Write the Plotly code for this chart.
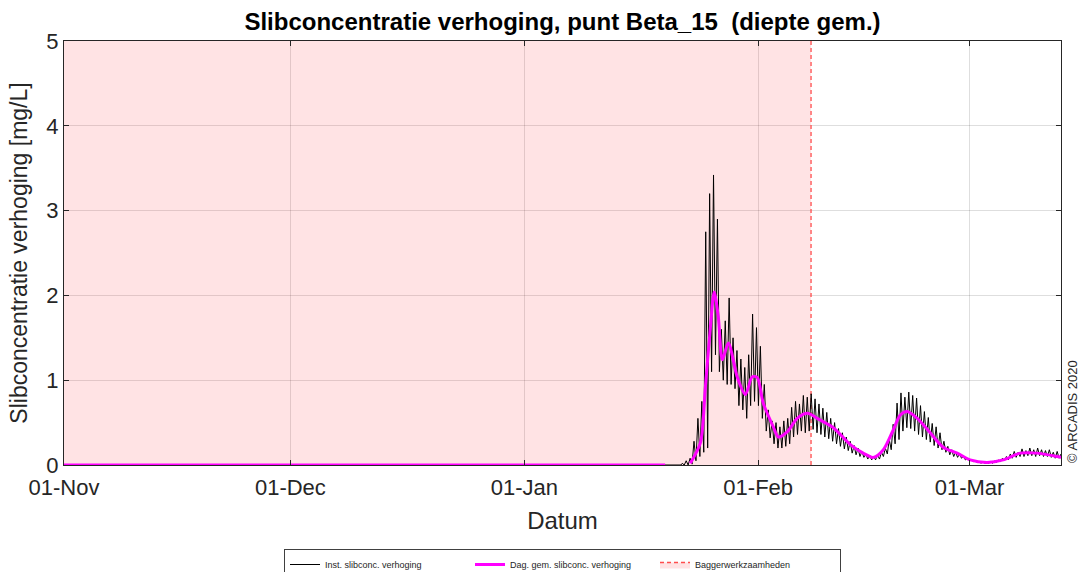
import pandas as pd
import plotly.graph_objects as go

# ---------------- data ----------------
period_start = "2018-11-01 00:00"
period_end = "2019-03-13 03:00"

# dredging window (shaded)
dredge_start = "2018-11-01 00:00"
dredge_end = "2019-02-08 00:00"

# month ticks
tick_dates = ["2018-11-01", "2018-12-01", "2019-01-01", "2019-02-01", "2019-03-01"]
tick_labels = ["01-Nov", "01-Dec", "01-Jan", "01-Feb", "01-Mar"]

# instantaneous concentration: background level before the plume arrives
inst_quiet_times = ["2018-11-01 00:00", "2019-01-21 18:00"]
inst_quiet_values = [0.0, 0.0]

# tidal cycles (semi-diurnal) after arrival of the plume
tide_first_high = "2019-01-21 22:30"
tide_period_hours = 12.42
inst_high = [
    0.02, 0.05, 0.08, 0.28, 0.55, 0.75, 2.75, 3.20, 3.42, 2.90,
    1.60, 1.70, 1.97, 1.50, 1.35, 1.25, 1.15, 1.30, 1.78, 1.62,
    1.40, 0.95, 0.65, 0.52, 0.50, 0.45, 0.52, 0.55, 0.68, 0.75,
    0.72, 0.82, 0.80, 0.84, 0.78, 0.72, 0.67, 0.62, 0.55, 0.50,
    0.43, 0.38, 0.33, 0.28, 0.23, 0.20, 0.16, 0.13, 0.11, 0.10,
    0.12, 0.15, 0.20, 0.30, 0.48, 0.73, 0.85, 0.80, 0.86, 0.82,
    0.79, 0.70, 0.63, 0.56, 0.49, 0.45, 0.38, 0.28, 0.22, 0.18,
    0.15, 0.13, 0.10, 0.08, 0.06, 0.05, 0.04, 0.04, 0.03, 0.04,
    0.05, 0.06, 0.08, 0.10, 0.13, 0.16, 0.15, 0.19, 0.17, 0.20,
    0.18, 0.20, 0.18, 0.17, 0.18, 0.15, 0.16, 0.13,
]
inst_low = [
    0.00, 0.00, 0.01, 0.05, 0.10, 0.15, 0.20, 1.10, 1.30, 1.10,
    1.00, 0.95, 0.95, 0.90, 0.70, 0.65, 0.55, 0.70, 0.75, 0.70,
    0.55, 0.40, 0.32, 0.25, 0.20, 0.20, 0.22, 0.25, 0.33, 0.36,
    0.40, 0.38, 0.40, 0.42, 0.38, 0.36, 0.33, 0.31, 0.28, 0.25,
    0.22, 0.19, 0.17, 0.14, 0.12, 0.10, 0.09, 0.07, 0.06, 0.06,
    0.07, 0.10, 0.13, 0.18, 0.25, 0.30, 0.40, 0.44, 0.43, 0.40,
    0.36, 0.33, 0.30, 0.27, 0.23, 0.20, 0.18, 0.15, 0.12, 0.10,
    0.09, 0.08, 0.06, 0.05, 0.04, 0.03, 0.02, 0.02, 0.02, 0.02,
    0.03, 0.04, 0.05, 0.06, 0.08, 0.09, 0.10, 0.10, 0.11, 0.11,
    0.10, 0.11, 0.10, 0.10, 0.09, 0.08, 0.08, 0.07,
]

# daily (tidally) averaged concentration
daily_zero_times = ["2018-11-01 00:00", "2019-01-19 16:00"]
daily_zero_values = [0.0, 0.0]
daily_times = [
    "2019-01-23 00:00", "2019-01-24 08:00", "2019-01-25 00:00", "2019-01-25 16:00",
    "2019-01-26 04:00", "2019-01-26 17:00", "2019-01-27 06:00", "2019-01-28 01:00",
    "2019-01-29 05:00", "2019-01-30 07:00", "2019-01-31 05:00", "2019-01-31 21:00",
    "2019-02-01 16:00", "2019-02-03 00:00", "2019-02-03 16:00", "2019-02-04 20:00",
    "2019-02-06 04:00", "2019-02-07 12:00", "2019-02-09 05:00", "2019-02-10 23:00",
    "2019-02-13 05:00", "2019-02-14 22:00", "2019-02-16 06:00", "2019-02-17 14:00",
    "2019-02-18 21:00", "2019-02-19 20:00", "2019-02-20 18:00", "2019-02-22 02:00",
    "2019-02-23 19:00", "2019-02-25 12:00", "2019-02-27 09:00", "2019-03-01 02:00",
    "2019-03-03 08:00", "2019-03-05 11:00", "2019-03-07 17:00", "2019-03-09 23:00",
    "2019-03-12 15:00", "2019-03-13 04:00",
]
daily_values = [
    0.02, 0.26, 0.92, 1.63,
    2.04, 1.75, 1.24, 1.44,
    1.04, 0.83, 1.04, 1.03,
    0.73, 0.45, 0.33, 0.39,
    0.55, 0.61, 0.53, 0.44,
    0.24, 0.14, 0.09, 0.18,
    0.41, 0.59, 0.63, 0.55,
    0.38, 0.21, 0.14, 0.06,
    0.03, 0.06, 0.14, 0.14,
    0.10, 0.09,
]

y_max = 5

# ---------------- build series ----------------
t0 = pd.Timestamp(tide_first_high)
step = pd.Timedelta(hours=tide_period_hours)
inst_t = [pd.Timestamp(t) for t in inst_quiet_times]
inst_v = list(inst_quiet_values)
for k, (hi, lo) in enumerate(zip(inst_high, inst_low)):
    inst_t.append(t0 + k * step)
    inst_v.append(hi)
    inst_t.append(t0 + k * step + step / 2)
    inst_v.append(lo)

daily_t = [pd.Timestamp(t) for t in daily_zero_times] + [None] + [pd.Timestamp(t) for t in daily_times]
daily_v = daily_zero_values + [None] + daily_values

FONT = "Liberation Sans, Arial, Helvetica, sans-serif"
PINK = "rgba(255, 40, 50, 0.13)"
RED_DASH = dict(color="#ff4d4d", width=1.3, dash="4px,3px")

fig = go.Figure()

# shaded dredging window (fill only)
fig.add_trace(go.Scatter(
    x=[dredge_start, dredge_end, dredge_end, dredge_start, dredge_start],
    y=[0, 0, y_max, y_max, 0],
    mode="lines",
    fill="toself",
    fillcolor=PINK,
    line=dict(width=0),
    showlegend=False,
    hoverinfo="skip",
))

# end of the dredging window: dashed boundary, also carries the legend entry
fig.add_trace(go.Scatter(
    x=[dredge_end, dredge_end],
    y=[0, y_max],
    mode="lines",
    fill="toself",
    fillcolor=PINK,
    line=RED_DASH,
    name="Baggerwerkzaamheden",
    legendrank=3,
    hoverinfo="skip",
))

fig.add_trace(go.Scatter(
    x=inst_t, y=inst_v,
    mode="lines",
    line=dict(color="black", width=1),
    name="Inst. slibconc. verhoging",
    legendrank=1,
))

fig.add_trace(go.Scatter(
    x=daily_t, y=daily_v,
    mode="lines",
    line=dict(color="#ff00ff", width=3, shape="spline", smoothing=0.8),
    connectgaps=False,
    name="Dag. gem. slibconc. verhoging",
    legendrank=2,
))

fig.update_layout(
    width=1079, height=572,
    margin=dict(l=64, r=18, t=41, b=107, autoexpand=False),
    paper_bgcolor="white",
    plot_bgcolor="white",
    font=dict(family=FONT, color="#262626"),
    title=dict(
        text="<b>Slibconcentratie verhoging, punt Beta_15  (diepte gem.)</b>",
        x=0.5, xref="paper", xanchor="center",
        y=1 - 22 / 572, yref="container", yanchor="middle",
        font=dict(family=FONT, size=24, color="black"),
    ),
    showlegend=True,
    legend=dict(
        orientation="h",
        x=0.5, xanchor="center", xref="paper",
        y=1 - 549 / 572, yanchor="top", yref="container",
        font=dict(family=FONT, size=9, color="#262626"),
        bordercolor="#404040", borderwidth=1,
        bgcolor="white",
        entrywidth=140, entrywidthmode="pixels",
        tracegroupgap=0,
    ),
)

fig.update_xaxes(
    type="date",
    range=[period_start, period_end],
    tickmode="array", tickvals=tick_dates, ticktext=tick_labels,
    ticks="inside", ticklen=5, tickcolor="#262626",
    ticklabelstandoff=3,
    showline=True, linecolor="#262626", linewidth=1, mirror="ticks",
    showgrid=True, gridcolor="rgba(0,0,0,0.13)", gridwidth=1,
    zeroline=False,
    tickfont=dict(family=FONT, size=22, color="#262626"),
    title=dict(text="Datum", font=dict(family=FONT, size=24, color="#262626"), standoff=12),
)
fig.update_yaxes(
    range=[0, y_max],
    tickmode="array", tickvals=[0, 1, 2, 3, 4, 5],
    ticks="inside", ticklen=5, tickcolor="#262626",
    showline=True, linecolor="#262626", linewidth=1, mirror="ticks",
    showgrid=True, gridcolor="rgba(0,0,0,0.13)", gridwidth=1,
    zeroline=False,
    tickfont=dict(family=FONT, size=22, color="#262626"),
    title=dict(text="Slibconcentratie verhoging [mg/L]",
               font=dict(family=FONT, size=23, color="#262626"), standoff=12),
)

fig.add_annotation(
    text="© ARCADIS 2020",
    xref="paper", yref="paper",
    x=1, y=0, xanchor="left", yanchor="bottom",
    xshift=2,
    textangle=-90,
    showarrow=False,
    font=dict(family=FONT, size=13, color="#262626"),
)

fig.write_html("out.html")
